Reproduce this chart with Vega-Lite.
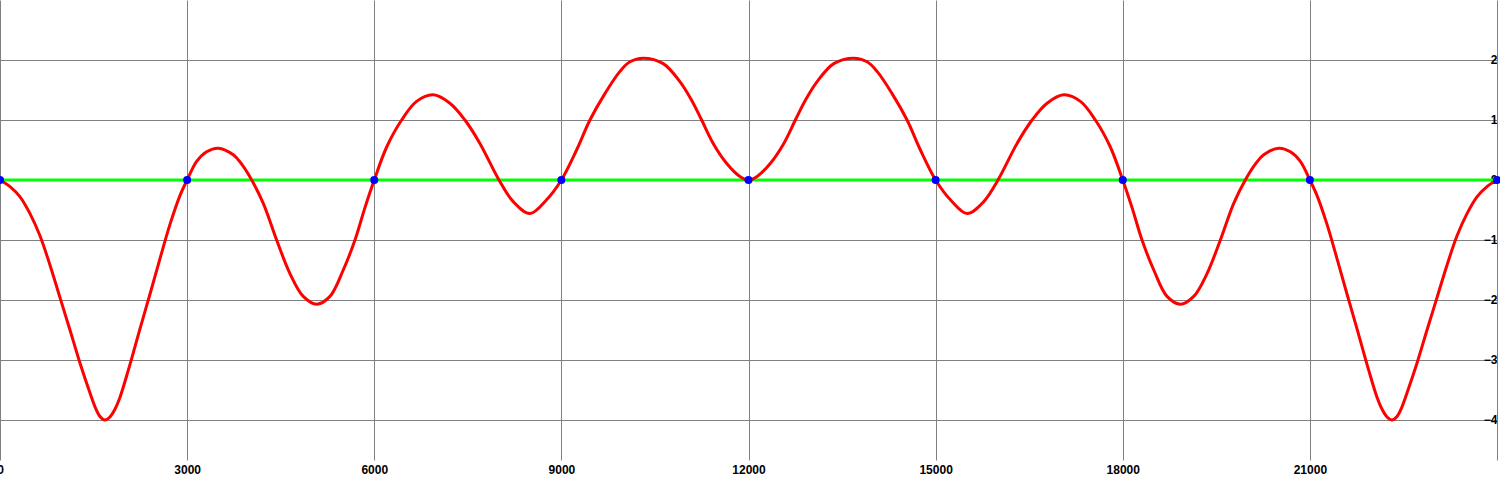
{
  "$schema": "https://vega.github.io/schema/vega-lite/v6.json",
  "width": 1497,
  "height": 460,
  "padding": {"left": 0, "top": 0, "right": 3, "bottom": 20},
  "autosize": {"type": "none"},
  "background": "white",
  "config": {"view": {"stroke": null}},
  "datasets": {
    "curve": [
      {"x": 0, "y": 0}, {"x": 160, "y": -0.11}, {"x": 321, "y": -0.28}, {"x": 481, "y": -0.56}, {"x": 641, "y": -0.93},
      {"x": 802, "y": -1.42}, {"x": 962, "y": -1.96}, {"x": 1122, "y": -2.5}, {"x": 1282, "y": -3.05}, {"x": 1443, "y": -3.55},
      {"x": 1523, "y": -3.78}, {"x": 1603, "y": -3.94}, {"x": 1683, "y": -4.0}, {"x": 1763, "y": -3.95}, {"x": 1843, "y": -3.82},
      {"x": 1924, "y": -3.62}, {"x": 2057, "y": -3.17}, {"x": 2244, "y": -2.48}, {"x": 2405, "y": -1.9}, {"x": 2565, "y": -1.31},
      {"x": 2725, "y": -0.74}, {"x": 2885, "y": -0.26}, {"x": 3000, "y": 0}, {"x": 3153, "y": 0.31}, {"x": 3313, "y": 0.47},
      {"x": 3499, "y": 0.53}, {"x": 3740, "y": 0.42}, {"x": 3863, "y": 0.28}, {"x": 4035, "y": 0}, {"x": 4221, "y": -0.39},
      {"x": 4435, "y": -1.0}, {"x": 4649, "y": -1.56}, {"x": 4862, "y": -1.94}, {"x": 5077, "y": -2.07}, {"x": 5290, "y": -1.94},
      {"x": 5503, "y": -1.5}, {"x": 5691, "y": -1.0}, {"x": 5851, "y": -0.46}, {"x": 6000, "y": 0}, {"x": 6199, "y": 0.55},
      {"x": 6439, "y": 1.0}, {"x": 6679, "y": 1.31}, {"x": 6946, "y": 1.42}, {"x": 7213, "y": 1.28}, {"x": 7454, "y": 1.0},
      {"x": 7694, "y": 0.61}, {"x": 8000, "y": 0}, {"x": 8228, "y": -0.36}, {"x": 8496, "y": -0.56}, {"x": 8763, "y": -0.33},
      {"x": 9000, "y": 0}, {"x": 9244, "y": 0.5}, {"x": 9458, "y": 1.0}, {"x": 9698, "y": 1.44}, {"x": 9939, "y": 1.81},
      {"x": 10099, "y": 1.97}, {"x": 10312, "y": 2.03}, {"x": 10633, "y": 1.94}, {"x": 10900, "y": 1.64}, {"x": 11088, "y": 1.33},
      {"x": 11249, "y": 1.0}, {"x": 11434, "y": 0.61}, {"x": 11648, "y": 0.28}, {"x": 11862, "y": 0.06}, {"x": 12000, "y": 0},
      {"x": 12138, "y": 0.06}, {"x": 12352, "y": 0.28}, {"x": 12566, "y": 0.61}, {"x": 12751, "y": 1.0}, {"x": 12912, "y": 1.33},
      {"x": 13100, "y": 1.64}, {"x": 13367, "y": 1.94}, {"x": 13688, "y": 2.03}, {"x": 13901, "y": 1.97}, {"x": 14061, "y": 1.81},
      {"x": 14302, "y": 1.44}, {"x": 14542, "y": 1.0}, {"x": 14756, "y": 0.5}, {"x": 15000, "y": 0}, {"x": 15237, "y": -0.33},
      {"x": 15504, "y": -0.56}, {"x": 15772, "y": -0.36}, {"x": 16000, "y": 0}, {"x": 16306, "y": 0.61}, {"x": 16546, "y": 1.0},
      {"x": 16787, "y": 1.28}, {"x": 17054, "y": 1.42}, {"x": 17321, "y": 1.31}, {"x": 17561, "y": 1.0}, {"x": 17801, "y": 0.55},
      {"x": 18000, "y": 0}, {"x": 18149, "y": -0.46}, {"x": 18309, "y": -1.0}, {"x": 18497, "y": -1.5}, {"x": 18710, "y": -1.94},
      {"x": 18923, "y": -2.07}, {"x": 19138, "y": -1.94}, {"x": 19351, "y": -1.56}, {"x": 19565, "y": -1.0}, {"x": 19779, "y": -0.39},
      {"x": 19965, "y": 0}, {"x": 20137, "y": 0.28}, {"x": 20260, "y": 0.42}, {"x": 20501, "y": 0.53}, {"x": 20687, "y": 0.47},
      {"x": 20847, "y": 0.31}, {"x": 21000, "y": 0}, {"x": 21115, "y": -0.26}, {"x": 21275, "y": -0.74}, {"x": 21435, "y": -1.31},
      {"x": 21595, "y": -1.9}, {"x": 21756, "y": -2.48}, {"x": 21943, "y": -3.17}, {"x": 22076, "y": -3.62}, {"x": 22157, "y": -3.82},
      {"x": 22237, "y": -3.95}, {"x": 22317, "y": -4.0}, {"x": 22397, "y": -3.94}, {"x": 22477, "y": -3.78}, {"x": 22557, "y": -3.55},
      {"x": 22718, "y": -3.05}, {"x": 22878, "y": -2.5}, {"x": 23038, "y": -1.96}, {"x": 23198, "y": -1.42}, {"x": 23359, "y": -0.93},
      {"x": 23519, "y": -0.56}, {"x": 23679, "y": -0.28}, {"x": 23840, "y": -0.11}, {"x": 24000, "y": 0}
    ],
    "zeros": [
      {"x": 0, "y": 0}, {"x": 3000, "y": 0}, {"x": 6000, "y": 0}, {"x": 9000, "y": 0}, {"x": 12000, "y": 0},
      {"x": 15000, "y": 0}, {"x": 18000, "y": 0}, {"x": 21000, "y": 0}, {"x": 24000, "y": 0}
    ]
  },
  "layer": [
    {
      "data": {"values": [{}]},
      "mark": {"type": "rule", "color": "#00ff00", "strokeWidth": 3},
      "encoding": {"y": {"datum": 0, "type": "quantitative"}}
    },
    {
      "data": {"name": "curve"},
      "mark": {"type": "line", "color": "#ff0000", "strokeWidth": 3, "interpolate": "catmull-rom"},
      "encoding": {
        "x": {
          "field": "x", "type": "quantitative",
          "scale": {"domain": [0, 24000], "nice": false, "zero": false},
          "axis": {
            "values": [0, 3000, 6000, 9000, 12000, 15000, 18000, 21000],
            "title": null, "grid": true, "gridColor": "#808080", "gridOpacity": 1, "gridWidth": 1,
            "domain": false, "ticks": false, "tickSize": 0, "labelPadding": 4,
            "labelFont": "Liberation Sans", "labelFontWeight": "bold", "labelFontSize": 12, "labelColor": "#000000",
            "labelFlush": false, "labelOverlap": false, "labelBound": false, "format": "d"
          }
        },
        "y": {
          "field": "y", "type": "quantitative",
          "scale": {"domain": [-4.6667, 3], "nice": false, "zero": false},
          "axis": {
            "orient": "right",
            "values": [-4, -3, -2, -1, 0, 1, 2],
            "title": null, "grid": true, "gridColor": "#808080", "gridOpacity": 1, "gridWidth": 1,
            "domain": true, "domainColor": "#808080", "domainWidth": 1, "ticks": false, "tickSize": 0,
            "labelAlign": "right", "labelPadding": 0, "labelBaseline": "middle",
            "labelFont": "Liberation Sans", "labelFontWeight": "bold", "labelFontSize": 12, "labelColor": "#000000",
            "labelFlush": false, "labelOverlap": false, "labelBound": false, "format": "d"
          }
        }
      }
    },
    {
      "data": {"name": "zeros"},
      "mark": {"type": "point", "filled": true, "shape": "circle", "size": 64, "color": "#0000ff", "opacity": 1},
      "encoding": {
        "x": {"field": "x", "type": "quantitative"},
        "y": {"field": "y", "type": "quantitative"}
      }
    }
  ]
}
